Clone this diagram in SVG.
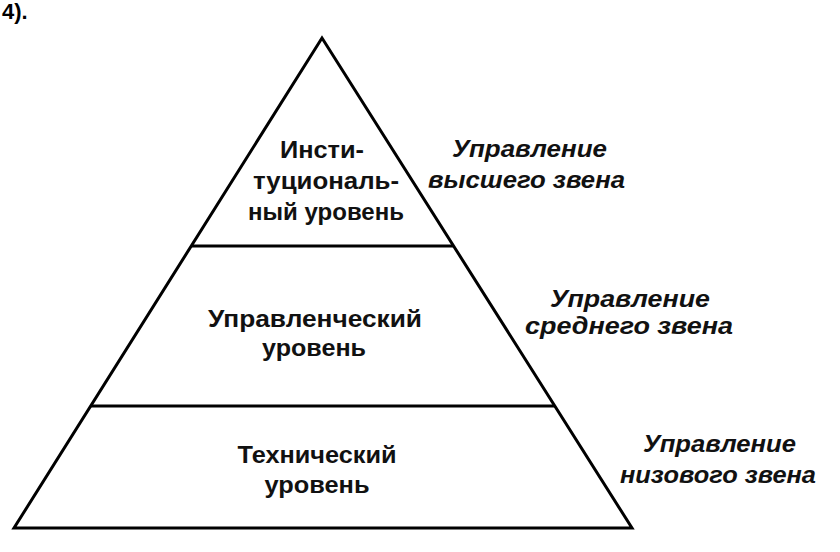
<svg xmlns="http://www.w3.org/2000/svg" width="840" height="552" viewBox="0 0 840 552">
<style>
.edge{fill:none;stroke:#000;stroke-width:3;stroke-linejoin:miter}
.lvl{font-family:"Liberation Sans",Arial,sans-serif;font-weight:bold;font-size:24px;fill:#111;text-anchor:middle}
.zone{font-family:"Liberation Sans",Arial,sans-serif;font-weight:bold;font-style:italic;font-size:23px;fill:#111}
.num{font-family:"Liberation Sans",Arial,sans-serif;font-weight:bold;font-size:22px;fill:#000}
</style>
<rect width="840" height="552" fill="#fff"/>
<text class="num" x="2" y="19">4).</text>
<g id="pyramid">
<polygon class="edge" points="322,38 14,528 632,528"/>
</g>
<g id="connectors">
<line class="edge" x1="191" y1="246" x2="453" y2="246"/>
<line class="edge" x1="91" y1="406" x2="555" y2="406"/>
</g>
<g id="institutional">
<text class="lvl" x="322" y="158" textLength="84" lengthAdjust="spacingAndGlyphs">Инсти-</text>
<text class="lvl" x="326" y="189" textLength="146" lengthAdjust="spacingAndGlyphs">туциональ-</text>
<text class="lvl" x="326" y="220" textLength="156" lengthAdjust="spacingAndGlyphs">ный уровень</text>
</g>
<g id="managerial">
<text class="lvl" x="315" y="327" textLength="214" lengthAdjust="spacingAndGlyphs">Управленческий</text>
<text class="lvl" x="314" y="356" textLength="104" lengthAdjust="spacingAndGlyphs">уровень</text>
</g>
<g id="technical">
<text class="lvl" x="317" y="463" textLength="159" lengthAdjust="spacingAndGlyphs">Технический</text>
<text class="lvl" x="317" y="493" textLength="105" lengthAdjust="spacingAndGlyphs">уровень</text>
</g>
<g id="top-management">
<text class="zone" x="452" y="157" textLength="155" lengthAdjust="spacingAndGlyphs">Управление</text>
<text class="zone" x="428" y="188" textLength="197" lengthAdjust="spacingAndGlyphs">высшего звена</text>
</g>
<g id="middle-management">
<text class="zone" x="550" y="307" textLength="160" lengthAdjust="spacingAndGlyphs">Управление</text>
<text class="zone" x="525" y="334" textLength="208" lengthAdjust="spacingAndGlyphs">среднего звена</text>
</g>
<g id="lower-management">
<text class="zone" x="643" y="452" textLength="153" lengthAdjust="spacingAndGlyphs">Управление</text>
<text class="zone" x="620" y="483" textLength="196" lengthAdjust="spacingAndGlyphs">низового звена</text>
</g>
</svg>
